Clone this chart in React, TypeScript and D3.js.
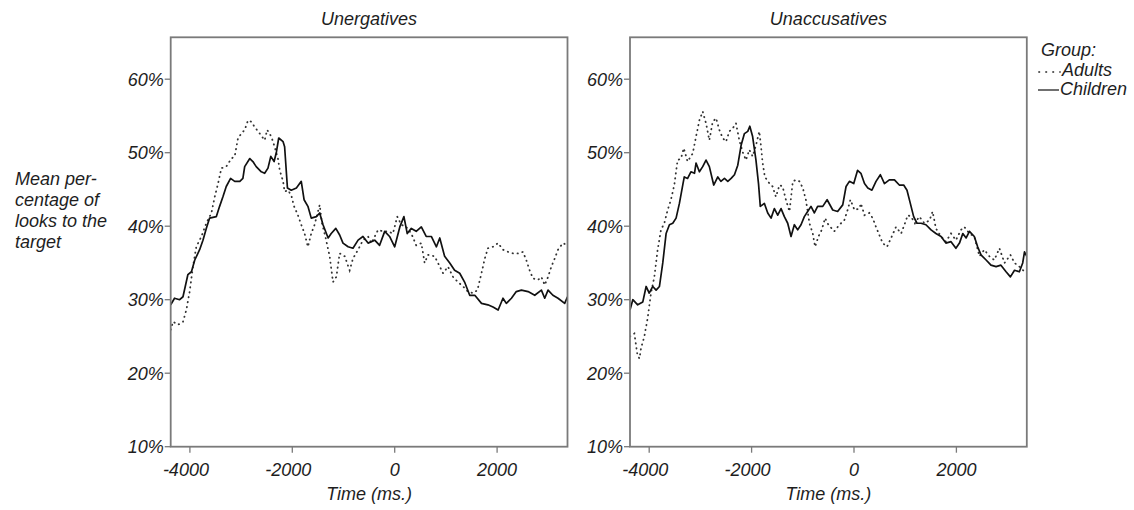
import React from "react";
import * as d3 from "d3";

// ---- Data ----
const panelTitles = ["Unergatives", "Unaccusatives"];
const yTicks = [10, 20, 30, 40, 50, 60];
const xTicks = [-4000, -2000, 0, 2000];
const yLabelLines = ["Mean per-", "centage of", "looks to the", "target"];
const legendTitle = "Group:";
const groups = ["Adults", "Children"];

const unergChildrenT = [-4375,-4300,-4200,-4135,-4040,-3970,-3905,-3810,-3745,-3680,-3615,-3485,-3420,-3355,-3290,-3205,-3125,-3025,-2965,-2930,-2830,-2770,-2705,-2605,-2540,-2475,-2420,-2355,-2310,-2265,-2180,-2150,-2095,-2020,-1920,-1825,-1770,-1695,-1630,-1530,-1465,-1400,-1300,-1240,-1150,-1075,-1010,-910,-815,-715,-620,-520,-390,-295,-195,-100,0,100,180,245,325,420,520,615,715,815,880,975,1075,1170,1270,1365,1465,1565,1695,1820,1920,2020,2115,2180,2280,2375,2475,2605,2735,2865,2930,2995,3090,3190,3320,3375];
const unergChildrenV = [29.3,30.2,30.0,30.4,33.4,33.8,35.4,36.8,38.1,39.7,41.1,41.3,42.7,44.0,45.4,46.5,46.1,46.1,46.5,48.1,49.2,48.8,48.1,47.4,47.2,47.9,49.5,48.8,50.1,52.0,51.5,50.8,45.2,44.9,45.2,46.1,43.6,42.7,41.1,41.3,41.8,40.2,38.4,39.0,39.7,38.8,37.7,37.2,37.0,38.1,38.6,37.7,38.1,37.4,39.3,38.6,37.2,39.9,41.3,39.0,39.7,39.3,39.9,38.6,38.6,37.2,38.4,35.9,35.0,34.0,33.6,32.4,30.6,30.6,29.5,29.3,29.0,28.6,30.2,29.5,30.2,31.1,31.3,31.1,30.6,31.3,30.2,31.3,30.6,30.2,29.5,30.4];

const unergAdultsT = [-4375,-4330,-4230,-4135,-4070,-4005,-3940,-3875,-3775,-3680,-3580,-3515,-3450,-3385,-3290,-3190,-3125,-3060,-2995,-2930,-2865,-2800,-2735,-2635,-2540,-2490,-2410,-2345,-2280,-2245,-2180,-2150,-2085,-2020,-1965,-1890,-1825,-1760,-1695,-1630,-1565,-1465,-1420,-1355,-1270,-1205,-1140,-1075,-975,-880,-815,-715,-620,-520,-455,-325,-230,-130,-35,50,130,225,325,420,520,585,650,780,845,945,1040,1140,1235,1335,1430,1530,1615,1695,1760,1820,1920,2020,2115,2215,2310,2410,2505,2570,2635,2700,2800,2865,2930,2995,3060,3125,3190,3285,3375];
const unergAdultsV = [25.9,27.0,26.6,27.0,28.6,31.1,34.5,37.2,38.6,40.4,41.8,44.0,45.8,47.9,48.1,49.2,49.5,52.0,52.6,53.1,54.4,54.2,53.5,52.6,51.7,53.1,52.2,50.8,49.2,47.6,46.1,44.7,44.9,44.2,42.7,41.5,40.2,39.0,37.2,39.0,40.2,42.9,40.4,38.6,35.9,32.4,33.1,36.3,35.9,34.0,35.6,36.8,38.1,38.6,37.7,39.5,39.3,39.3,39.0,41.3,40.2,39.9,39.0,37.4,37.7,35.0,36.1,35.9,35.0,33.6,34.5,33.1,32.4,31.8,31.1,30.9,31.3,33.6,35.6,37.0,37.2,37.7,36.8,36.5,36.3,36.3,36.5,35.4,34.0,32.9,32.7,33.1,32.0,33.1,34.5,35.6,36.8,37.7,37.4];

const unaccChildrenT = [-4375,-4320,-4225,-4125,-4060,-4000,-3930,-3865,-3800,-3735,-3670,-3605,-3540,-3475,-3410,-3345,-3315,-3250,-3185,-3115,-3085,-3020,-2955,-2890,-2825,-2740,-2660,-2600,-2530,-2465,-2400,-2335,-2270,-2205,-2140,-2075,-2035,-1980,-1915,-1865,-1830,-1750,-1685,-1620,-1555,-1490,-1425,-1360,-1295,-1230,-1165,-1100,-1035,-970,-905,-840,-775,-710,-610,-525,-415,-320,-220,-155,-90,-5,70,135,205,270,350,430,515,595,690,790,885,970,1035,1100,1165,1230,1310,1405,1505,1600,1700,1795,1895,1990,2060,2125,2190,2255,2350,2415,2480,2580,2675,2775,2870,2970,3055,3135,3230,3295,3330,3375];
const unaccChildrenV = [28.6,30.0,29.3,29.7,31.8,30.9,31.8,31.3,31.8,35.0,39.0,40.2,40.4,41.1,43.1,45.6,46.7,46.5,47.4,47.2,48.6,47.4,48.1,49.0,48.1,45.6,46.7,46.1,46.5,46.1,46.5,47.0,48.3,51.0,52.6,52.9,53.6,52.2,49.0,45.8,42.7,43.1,41.8,41.1,42.4,41.5,42.4,41.3,40.4,38.6,40.2,39.5,40.2,41.3,42.0,42.7,41.8,42.7,42.7,43.6,42.2,42.0,42.9,45.4,46.1,45.8,47.6,47.2,45.8,45.2,44.9,46.1,47.0,45.8,46.3,46.3,45.6,45.6,44.9,43.1,41.3,40.4,40.4,40.2,39.5,39.0,38.6,37.7,37.9,37.0,37.7,39.0,38.4,39.3,38.6,37.2,36.1,35.4,34.7,34.5,34.7,33.8,33.1,34.0,33.8,35.0,36.5,35.9];

const unaccAdultsT = [-4375,-4290,-4230,-4190,-4160,-4095,-4030,-3965,-3900,-3835,-3770,-3705,-3640,-3575,-3510,-3445,-3380,-3325,-3250,-3150,-3085,-3020,-2955,-2890,-2825,-2760,-2695,-2630,-2565,-2500,-2435,-2370,-2305,-2240,-2175,-2110,-2045,-1980,-1915,-1850,-1815,-1785,-1740,-1650,-1590,-1525,-1455,-1395,-1330,-1260,-1195,-1135,-1065,-1000,-940,-870,-805,-760,-695,-630,-565,-500,-385,-285,-190,-125,-70,10,105,135,205,300,365,430,495,560,645,725,820,920,985,1050,1115,1190,1275,1375,1475,1535,1600,1700,1795,1895,1990,2090,2155,2255,2350,2450,2545,2645,2740,2840,2940,3055,3135,3230,3330,3375];
const unaccAdultsV = [25.0,25.4,22.5,22.0,23.4,25.0,27.5,30.9,33.1,36.8,39.5,40.4,42.2,43.6,45.6,49.0,49.2,50.6,48.8,49.9,52.2,54.4,55.6,54.0,51.7,54.2,54.7,53.1,52.0,51.5,52.9,53.3,54.0,51.7,50.1,49.0,50.4,49.5,51.0,52.9,50.8,48.6,46.7,45.8,45.4,44.0,45.6,45.4,43.6,42.0,46.1,46.3,46.1,45.2,43.6,40.4,39.0,37.2,38.6,39.5,41.1,40.2,39.3,40.2,40.8,42.2,43.6,42.2,42.4,43.1,41.5,41.8,41.1,39.9,38.8,37.7,37.2,38.4,39.9,39.0,40.2,41.5,41.3,40.4,41.3,40.4,40.8,42.0,39.7,38.6,37.9,39.0,38.1,39.5,39.9,39.0,38.6,35.9,36.8,35.9,35.4,37.0,35.0,36.1,35.0,34.5,33.8,34.0];

const panels = [
  { title: panelTitles[0], adultsT: unergAdultsT, adultsV: unergAdultsV, childrenT: unergChildrenT, childrenV: unergChildrenV },
  { title: panelTitles[1], adultsT: unaccAdultsT, adultsV: unaccAdultsV, childrenT: unaccChildrenT, childrenV: unaccChildrenV },
];

// ---- Layout ----
const W = 1134;
const H = 510;
const panelLeft = [170.7, 630];
const panelW = 396.8;
const top = 37.3;
const bottom = 446.7;
const FONT = "'Liberation Sans', Arial, Helvetica, sans-serif";
const FRAME = "#7a7a7a";
const TEXT = "#1e1e1e";

function Panel({ p, left, idx }: { p: any; left: number; idx: number }) {
  const x = d3.scaleLinear().domain([-4375, 3375]).range([left, left + panelW]);
  const y = d3.scaleLinear().domain([10, 65.7]).range([bottom, top]);
  const line = d3
    .line<[number, number]>()
    .x((d) => x(d[0]))
    .y((d) => y(d[1]))
    .curve(d3.curveLinear);
  const adults = line(p.adultsT.map((t: number, i: number) => [t, p.adultsV[i]]));
  const children = line(p.childrenT.map((t: number, i: number) => [t, p.childrenV[i]]));
  const clipId = `clip${idx}`;
  const cx = left + panelW / 2;
  return (
    <g>
      <defs>
        <clipPath id={clipId}>
          <rect x={left} y={top} width={panelW} height={bottom - top} />
        </clipPath>
      </defs>
      <text x={cx} y={25} textAnchor="middle" fontStyle="italic" fontSize={18} fill={TEXT}>
        {p.title}
      </text>
      <g clipPath={`url(#${clipId})`}>
        <path d={adults || ""} fill="none" stroke="#333" strokeWidth={1.8} strokeDasharray="0.4 4.6" strokeLinecap="round" />
        <path d={children || ""} fill="none" stroke="#111" strokeWidth={1.7} strokeLinejoin="round" />
      </g>
      <rect x={left} y={top} width={panelW} height={bottom - top} fill="none" stroke={FRAME} strokeWidth={1.8} />
      {yTicks.map((v) => (
        <g key={v}>
          <line x1={left - 6} x2={left} y1={y(v)} y2={y(v)} stroke={FRAME} strokeWidth={1.3} />
          <text x={left - 7} y={y(v) + 6.5} textAnchor="end" fontStyle="italic" fontSize={18} fill={TEXT}>
            {`${v}%`}
          </text>
        </g>
      ))}
      {xTicks.map((v) => (
        <g key={v}>
          <line x1={x(v)} x2={x(v)} y1={bottom} y2={bottom + 6} stroke={FRAME} strokeWidth={1.3} />
          <text x={x(v) + (v < 0 ? -4 : 0)} y={476} textAnchor="middle" fontStyle="italic" fontSize={18} fill={TEXT}>
            {String(v)}
          </text>
        </g>
      ))}
      <text x={cx} y={500} textAnchor="middle" fontStyle="italic" fontSize={18} fill={TEXT}>
        Time (ms.)
      </text>
    </g>
  );
}

export default function App() {
  return (
    <svg
      width={W}
      height={H}
      viewBox={`0 0 ${W} ${H}`}
      style={{ position: "absolute", left: 0, top: 0, background: "#fff" }}
      fontFamily={FONT}
    >
      <rect x={0} y={0} width={W} height={H} fill="#fff" />
      {panels.map((p, i) => (
        <Panel key={p.title} p={p} left={panelLeft[i]} idx={i} />
      ))}
      {yLabelLines.map((s, i) => (
        <text key={s} x={15} y={185 + i * 21} fontStyle="italic" fontSize={18} fill={TEXT}>
          {s}
        </text>
      ))}
      <g>
        <text x={1041} y={56} fontStyle="italic" fontSize={18} fill={TEXT}>
          {legendTitle}
        </text>
        <line x1={1039} x2={1060} y1={72} y2={72} stroke="#555" strokeWidth={1.8} strokeDasharray="0.4 6.6" strokeLinecap="round" />
        <text x={1062} y={76} fontStyle="italic" fontSize={18} fill={TEXT}>
          {groups[0]}
        </text>
        <line x1={1038} x2={1059} y1={90} y2={90} stroke="#222" strokeWidth={1.3} />
        <text x={1060} y={95} fontStyle="italic" fontSize={18} fill={TEXT}>
          {groups[1]}
        </text>
      </g>
    </svg>
  );
}
